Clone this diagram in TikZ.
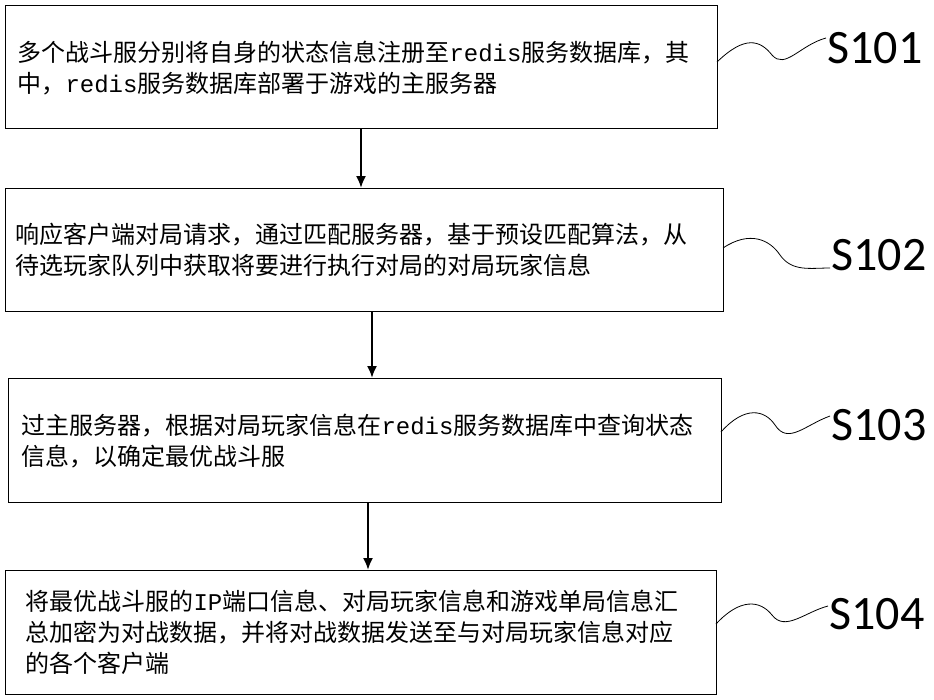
\documentclass[tikz,border=0pt]{standalone}
\usepackage{fontspec}
\setmainfont{Noto Sans CJK SC}
\setmonofont{Liberation Mono}
\setsansfont{Carlito}
\begin{document}
\begin{tikzpicture}[x=1pt,y=-1pt,
  stepbox/.style={draw,line width=1.2pt,anchor=north west,inner sep=0pt},
  txt/.style={anchor=west,align=left,font=\fontsize{24}{31}\selectfont},
  lab/.style={font=\fontsize{48}{50}\sffamily\selectfont,anchor=west},
  arr/.style={-{Latex[length=12pt,width=10pt]},line width=2pt},
  wave/.style={line width=0.8pt}]
\usetikzlibrary{arrows.meta}
\useasboundingbox (0,0) rectangle (934,699);
\node[stepbox,minimum width=712pt,minimum height=123pt] (b1) at (5,5) {};
\node[stepbox,minimum width=718pt,minimum height=123pt] (b2) at (5,188) {};
\node[stepbox,minimum width=713pt,minimum height=124pt] (b3) at (8,378) {};
\node[stepbox,minimum width=711pt,minimum height=124pt] (b4) at (5,570) {};
\node[txt] (t1) at (14,68) {多个战斗服分别将自身的状态信息注册至\texttt{redis}服务数据库，其\\中，\texttt{redis}服务数据库部署于游戏的主服务器};
\node[txt] (t2) at (12,250) {响应客户端对局请求，通过匹配服务器，基于预设匹配算法，从\\待选玩家队列中获取将要进行执行对局的对局玩家信息};
\node[txt] (t3) at (18,441) {过主服务器，根据对局玩家信息在\texttt{redis}服务数据库中查询状态\\信息，以确定最优战斗服};
\node[txt] (t4) at (22,632) {将最优战斗服的\texttt{IP}端口信息、对局玩家信息和游戏单局信息汇\\总加密为对战数据，并将对战数据发送至与对局玩家信息对应\\的各个客户端};
\draw[arr] (b1.south -| 361,0) -- (b2.north -| 361,0);
\draw[arr] (b2.south -| 372,0) -- (b3.north -| 372,0);
\draw[arr] (b3.south -| 368,0) -- (b4.north -| 368,0);
\node[lab] (s1) at (824,48) {S101};
\node[lab] (s2) at (828,255) {S102};
\node[lab] (s3) at (828,425) {S103};
\node[lab] (s4) at (826,614) {S104};
\coordinate (w1a) at (717,62); \coordinate (w1b) at (826,38);
\coordinate (w2a) at (723,248); \coordinate (w2b) at (830,268);
\coordinate (w3a) at (721,432); \coordinate (w3b) at (830,416);
\coordinate (w4a) at (716,624); \coordinate (w4b) at (828,606);
\draw[wave] (w1a) .. controls (745,35) and (760,40) .. (772,55) .. controls (785,70) and (800,45) .. (w1b);
\draw[wave] (w2a) .. controls (750,230) and (770,240) .. (780,255) .. controls (792,272) and (810,268) .. (w2b);
\draw[wave] (w3a) .. controls (745,405) and (765,410) .. (775,425) .. controls (788,445) and (805,425) .. (w3b);
\draw[wave] (w4a) .. controls (740,598) and (760,600) .. (772,615) .. controls (785,632) and (805,612) .. (w4b);
\end{tikzpicture}
\end{document}
